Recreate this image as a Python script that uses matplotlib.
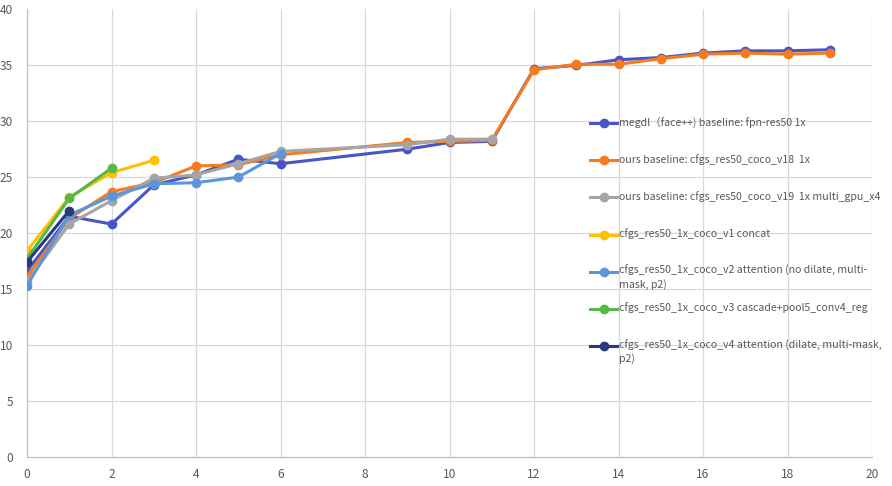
import matplotlib
matplotlib.use("Agg")
import matplotlib.pyplot as plt
from matplotlib.lines import Line2D

plt.rcParams['font.family'] = ['Noto Sans CJK SC', 'DejaVu Sans']

# ---- data ----
x_megdl = [0, 1, 2, 3, 4, 5, 6, 9, 10, 11, 12, 13, 14, 15, 16, 17, 18, 19]
y_megdl = [16.6, 21.5, 20.8, 24.3, 25.2, 26.6, 26.2, 27.5, 28.1, 28.2,
           34.7, 35.0, 35.5, 35.7, 36.1, 36.3, 36.3, 36.4]

x_v18 = [0, 1, 2, 3, 4, 5, 6, 9, 10, 11, 12, 13, 14, 15, 16, 17, 18, 19]
y_v18 = [16.1, 21.3, 23.7, 24.5, 26.0, 26.1, 27.0, 28.1, 28.2, 28.3,
         34.6, 35.1, 35.1, 35.6, 36.0, 36.1, 36.0, 36.1]

x_v19 = [0, 1, 2, 3, 4, 5, 6, 9, 10, 11]
y_v19 = [15.6, 20.8, 22.9, 24.9, 25.2, 26.2, 27.3, 27.9, 28.4, 28.4]

x_v1 = [0, 1, 2, 3]
y_v1 = [18.4, 23.2, 25.4, 26.5]

x_v2 = [0, 1, 2, 3, 4, 5, 6]
y_v2 = [15.3, 21.6, 23.3, 24.4, 24.5, 25.0, 27.1]

x_v3 = [0, 1, 2]
y_v3 = [17.7, 23.1, 25.8]

x_v4 = [0, 1]
y_v4 = [17.4, 22.0]

labels = [
    "megdl（face++) baseline: fpn-res50 1x",
    "ours baseline: cfgs_res50_coco_v18  1x",
    "ours baseline: cfgs_res50_coco_v19  1x multi_gpu_x4",
    "cfgs_res50_1x_coco_v1 concat",
    "cfgs_res50_1x_coco_v2 attention (no dilate, multi-\nmask, p2)",
    "cfgs_res50_1x_coco_v3 cascade+pool5_conv4_reg",
    "cfgs_res50_1x_coco_v4 attention (dilate, multi-mask,\np2)",
]
colors = ['#4656C8', '#F47B20', '#A5A5A5', '#FFC000', '#5B96DC', '#55B947', '#273A7C']

series = [(x_megdl, y_megdl), (x_v18, y_v18), (x_v19, y_v19), (x_v1, y_v1),
          (x_v2, y_v2), (x_v3, y_v3), (x_v4, y_v4)]

x_ticks = list(range(0, 21, 2))
y_ticks = list(range(0, 41, 5))

# ---- figure ----
W, H = 892, 486
fig = plt.figure(figsize=(W / 100, H / 100), dpi=100)
ax = fig.add_axes([27 / W, 1 - 456.5 / H, (872 - 27) / W, (456.5 - 9.5) / H])

for (xs, ys), c in zip(series, colors):
    ax.plot(xs, ys, color=c, lw=2.2, marker='o', ms=6, mec=c, mfc=c,
            solid_joinstyle='round', zorder=3)

ax.set_xlim(0, 20)
ax.set_ylim(0, 40)
ax.set_xticks(x_ticks)
ax.set_yticks(y_ticks)
grid_c = '#D9D9D9'
for v in x_ticks[1:]:
    ax.axvline(v, color=grid_c, lw=0.9, zorder=1)
for v in y_ticks[1:-1]:
    ax.axhline(v, color=grid_c, lw=0.9, zorder=1)
for s in ['top', 'right']:
    ax.spines[s].set_visible(False)
for s in ['left', 'bottom']:
    ax.spines[s].set_color('#BFBFBF')
    ax.spines[s].set_linewidth(0.9)
ax.tick_params(length=0, labelsize=8.6, colors='#595959', pad=8)
ax.tick_params(axis='y', pad=10)

# ---- legend (Excel-style fixed slots) ----
leg_x0, leg_x1, leg_txt = 590 / W, 617 / W, 619 / W
leg_y0, leg_dy = 123, 37.2
for i, (lab, c) in enumerate(zip(labels, colors)):
    yp = 1 - (leg_y0 + i * leg_dy) / H
    fig.add_artist(Line2D([leg_x0, leg_x1], [yp, yp], color=c, lw=2.2,
                          transform=fig.transFigure))
    fig.add_artist(Line2D([(leg_x0 + leg_x1) / 2], [yp], color=c, marker='o',
                          ms=6, transform=fig.transFigure))
    fig.text(leg_txt, yp + 6.5 / H, lab, fontsize=7.6, color='#595959',
             va='top', ha='left', linespacing=1.3)

fig.savefig('out.png', dpi=100, facecolor='white')
